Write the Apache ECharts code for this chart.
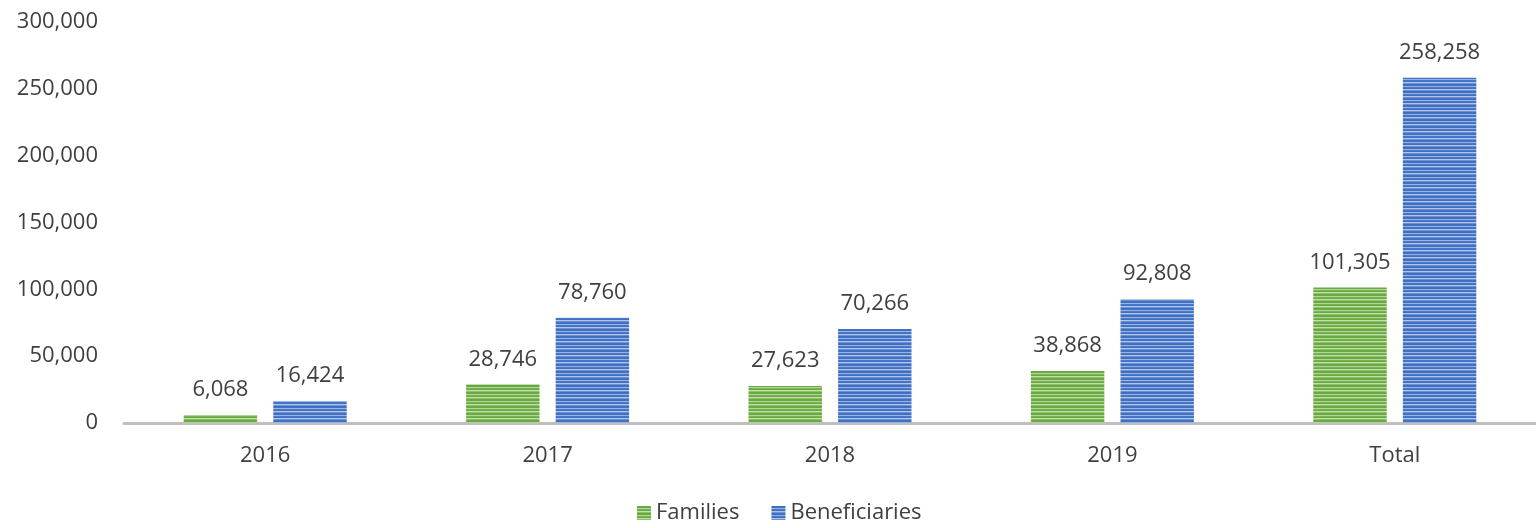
<!DOCTYPE html>
<html>
<head>
<meta charset="UTF-8">
<title>Families and Beneficiaries</title>
<script src="https://cdn.jsdelivr.net/npm/echarts@6/dist/echarts.min.js"></script>
<style>
  html, body { margin: 0; padding: 0; background: #fff; }
  #main { width: 1536px; height: 528px; }
</style>
</head>
<body>
<div id="main"></div>
<script>
var categories = ['2016', '2017', '2018', '2019', 'Total'];
var families = [6068, 28746, 27623, 38868, 101305];
var beneficiaries = [16424, 78760, 70266, 92808, 258258];
var yTicks = [0, 50000, 100000, 150000, 200000, 250000, 300000];

var font = '"Open Sans", "Noto Sans", sans-serif';
var textColor = '#404040';
var fs = 22;

// horizontal striped fill, like the office pattern fill
function stripes(rows) {
    var c = document.createElement('canvas');
    c.width = 4;
    c.height = rows.length;
    var ctx = c.getContext('2d');
    for (var i = 0; i < rows.length; i++) {
        ctx.fillStyle = rows[i];
        ctx.fillRect(0, i, 4, 1);
    }
    return c;
}
var greenFill = {
    image: stripes(['#6aa842', '#6aa842', '#b1d698', '#78b352', '#6aa842', '#c3dfae', '#8cc168']),
    repeat: 'repeat'
};
var blueFill = {
    image: stripes(['#4070c4', '#4070c4', '#9ab3e0', '#4a78c8', '#4070c4', '#b4c7e7', '#6a8fd2']),
    repeat: 'repeat'
};

function fmt(v) { return Number(v).toLocaleString('en-US'); }

var chart = echarts.init(document.getElementById('main'));
var option = {
    backgroundColor: '#ffffff',
    animation: false,
    textStyle: { fontFamily: font },
    grid: { left: 124, right: 0, top: 22, bottom: 105 },
    legend: {
        bottom: -1,
        left: 632,
        itemWidth: 14,
        itemHeight: 14,
        itemGap: 32,
        icon: 'rect',
        textStyle: { fontSize: fs, color: textColor, fontFamily: font },
        data: ['Families', 'Beneficiaries']
    },
    xAxis: {
        type: 'category',
        data: categories,
        axisLine: { lineStyle: { color: '#bfbfbf', width: 3 } },
        axisTick: { show: false },
        axisLabel: { fontSize: fs, color: textColor, margin: 22, fontFamily: font }
    },
    yAxis: {
        type: 'value',
        min: yTicks[0],
        max: yTicks[yTicks.length - 1],
        interval: yTicks[1] - yTicks[0],
        axisLine: { show: false },
        axisTick: { show: false },
        splitLine: { show: false },
        axisLabel: { fontSize: fs, color: textColor, margin: 26, fontFamily: font, formatter: fmt }
    },
    series: [
        {
            name: 'Families',
            type: 'bar',
            data: families,
            barWidth: '26%',
            barGap: '22%',
            itemStyle: { color: greenFill },
            label: {
                show: true, position: 'top', distance: 14,
                fontSize: fs, color: textColor, fontFamily: font,
                formatter: function (p) { return fmt(p.value); }
            }
        },
        {
            name: 'Beneficiaries',
            type: 'bar',
            data: beneficiaries,
            barWidth: '26%',
            itemStyle: { color: blueFill },
            label: {
                show: true, position: 'top', distance: 14,
                fontSize: fs, color: textColor, fontFamily: font,
                formatter: function (p) { return fmt(p.value); }
            }
        }
    ]
};
chart.setOption(option);
</script>
</body>
</html>
